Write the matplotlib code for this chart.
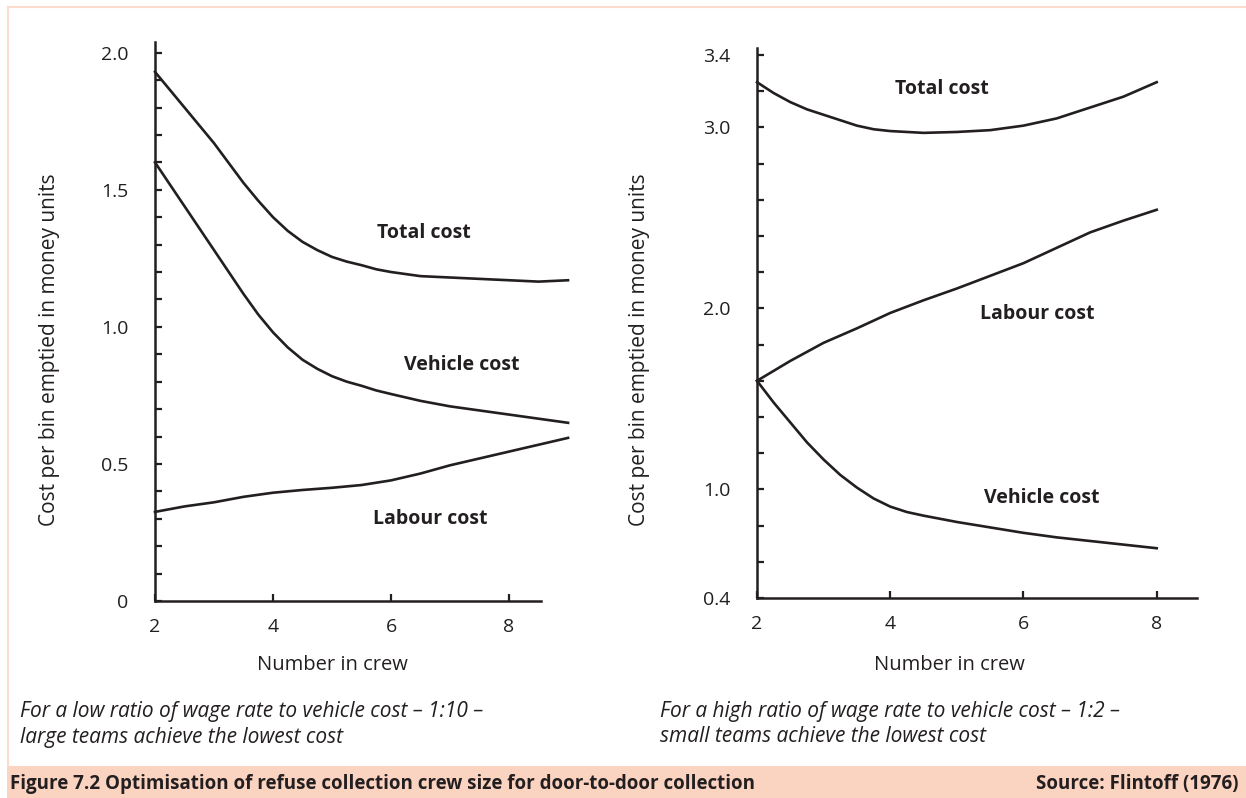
import matplotlib
matplotlib.use("Agg")
import matplotlib.pyplot as plt
from matplotlib.patches import Rectangle
from matplotlib.lines import Line2D

# donnees (gauche : ratio 1:10)
x_total_left = [2, 2.5, 3, 3.5, 3.75, 4, 4.25, 4.5, 4.75, 5, 5.25, 5.5, 5.75, 6, 6.5, 7, 7.5, 8, 8.5, 9]
total_left = [1.93, 1.80, 1.67, 1.525, 1.46, 1.40, 1.35, 1.31, 1.28, 1.255, 1.238, 1.225, 1.21, 1.20,
              1.185, 1.18, 1.175, 1.17, 1.165, 1.17]
x_vehicle_left = [2, 2.5, 3, 3.5, 3.75, 4, 4.25, 4.5, 4.75, 5, 5.25, 5.5, 5.75, 6, 6.5, 7, 7.5, 8, 8.5, 9]
vehicle_left = [1.60, 1.44, 1.28, 1.12, 1.045, 0.98, 0.925, 0.88, 0.847, 0.82, 0.80, 0.785, 0.768, 0.755,
                0.73, 0.71, 0.695, 0.68, 0.665, 0.65]
x_labour_left = [2, 2.5, 3, 3.5, 4, 4.5, 5, 5.5, 6, 6.5, 7, 7.5, 8, 8.5, 9]
labour_left = [0.325, 0.345, 0.36, 0.38, 0.395, 0.405, 0.413, 0.423, 0.44, 0.465, 0.495, 0.52, 0.545,
               0.57, 0.595]

# droite : ratio 1:2
x_total_right = [2, 2.25, 2.5, 2.75, 3, 3.25, 3.5, 3.75, 4, 4.5, 5, 5.5, 6, 6.5, 7, 7.5, 8]
total_right = [3.25, 3.19, 3.14, 3.10, 3.07, 3.04, 3.01, 2.99, 2.98, 2.97, 2.975, 2.985, 3.01, 3.05,
               3.11, 3.17, 3.25]
x_labour_right = [2, 2.5, 3, 3.5, 4, 4.5, 5, 5.5, 6, 6.5, 7, 7.5, 8]
labour_right = [1.60, 1.71, 1.81, 1.89, 1.975, 2.045, 2.11, 2.18, 2.25, 2.335, 2.42, 2.485, 2.545]
x_vehicle_right = [2, 2.25, 2.5, 2.75, 3, 3.25, 3.5, 3.75, 4, 4.25, 4.5, 5, 5.5, 6, 6.5, 7, 7.5, 8]
vehicle_right = [1.60, 1.48, 1.37, 1.26, 1.165, 1.08, 1.01, 0.95, 0.905, 0.875, 0.855, 0.82, 0.79, 0.76,
                 0.735, 0.715, 0.695, 0.675]

x_ticks = [2, 4, 6, 8]
y_left_major = [0, 0.5, 1.0, 1.5, 2.0]
y_left_labels = ["0", "0.5", "1.0", "1.5", "2.0"]
y_right_major = [0.4, 1.0, 2.0, 3.0, 3.4]
y_right_labels = ["0.4", "1.0", "2.0", "3.0", "3.4"]

ink = "#231f20"
salmon = "#fbd3c1"
border = "#fcdccd"

plt.rcParams["font.family"] = ["Open Sans", "DejaVu Sans"]

W, H = 1246, 798
fig = plt.figure(figsize=(W / 100, H / 100), dpi=100)


def style_axes(ax, xmax_spine, ytop_spine, ybottom):
    for s in ["top", "right"]:
        ax.spines[s].set_visible(False)
    for s in ["left", "bottom"]:
        ax.spines[s].set_linewidth(1.8)
        ax.spines[s].set_color(ink)
    ax.spines["bottom"].set_bounds(2, xmax_spine)
    ax.spines["left"].set_bounds(ybottom, ytop_spine)
    ax.set_xticks(x_ticks)
    ax.set_xticklabels([str(t) for t in x_ticks])
    ax.tick_params(axis="both", which="both", direction="in", length=5, width=1.6,
                   color=ink, labelcolor=ink, labelsize=14)
    ax.tick_params(axis="y", pad=19)
    ax.tick_params(axis="x", pad=12)
    ax.patch.set_visible(False)


# graphique de gauche
ax1 = fig.add_axes([155 / W, 1 - 601 / H, (571 - 155) / W, (601 - 39) / H])
ax1.set_xlim(2, 9.05)
ax1.set_ylim(0, 2.05)
ax1.plot(x_total_left, total_left, color=ink, lw=1.9, solid_joinstyle="round", clip_on=False)
ax1.plot(x_vehicle_left, vehicle_left, color=ink, lw=1.9, solid_joinstyle="round", clip_on=False)
ax1.plot(x_labour_left, labour_left, color=ink, lw=1.9, solid_joinstyle="round", clip_on=False)
style_axes(ax1, 8.55, 2.04, 0)
ax1.set_yticks(y_left_major)
ax1.set_yticklabels(y_left_labels)
ax1.set_yticks([v / 10 for v in range(1, 21) if v % 5 != 0], minor=True)
ax1.text(6.56, 1.343, "Total cost", ha="center", va="center", fontsize=14, fontweight="bold", color=ink)
ax1.text(7.2, 0.86, "Vehicle cost", ha="center", va="center", fontsize=14, fontweight="bold", color=ink)
ax1.text(6.66, 0.30, "Labour cost", ha="center", va="center", fontsize=14, fontweight="bold", color=ink)

# graphique de droite
ax2 = fig.add_axes([757 / W, 1 - 598 / H, (1200 - 757) / W, (598 - 46) / H])
ax2.set_xlim(2, 8.65)
ax2.set_ylim(0.4, 3.45)
ax2.plot(x_total_right, total_right, color=ink, lw=1.9, solid_joinstyle="round", clip_on=False)
ax2.plot(x_labour_right, labour_right, color=ink, lw=1.9, solid_joinstyle="round", clip_on=False)
ax2.plot(x_vehicle_right, vehicle_right, color=ink, lw=1.9, solid_joinstyle="round", clip_on=False)
style_axes(ax2, 8.6, 3.44, 0.4)
ax2.set_yticks(y_right_major)
ax2.set_yticklabels(y_right_labels)
ax2.set_yticks([0.6, 0.8, 1.2, 1.4, 1.6, 1.8, 2.2, 2.4, 2.6, 2.8, 3.2], minor=True)
ax2.text(4.77, 3.21, "Total cost", ha="center", va="center", fontsize=14, fontweight="bold", color=ink)
ax2.text(6.21, 1.97, "Labour cost", ha="center", va="center", fontsize=14, fontweight="bold", color=ink)
ax2.text(6.27, 0.95, "Vehicle cost", ha="center", va="center", fontsize=14, fontweight="bold", color=ink)

# titres des axes
ylab = "Cost per bin emptied in money units"
fig.text(50 / W, 1 - 350 / H, ylab, rotation=90, ha="center", va="center", fontsize=15, color=ink)
fig.text(640 / W, 1 - 350 / H, ylab, rotation=90, ha="center", va="center", fontsize=15, color=ink)
fig.text(332 / W, 1 - 665 / H, "Number in crew", ha="center", va="center", fontsize=14.5, color=ink)
fig.text(949 / W, 1 - 665 / H, "Number in crew", ha="center", va="center", fontsize=14.5, color=ink)

# legendes en italique
fig.text(20 / W, 1 - 712 / H, "For a low ratio of wage rate to vehicle cost \u2013 1:10 \u2013",
         ha="left", va="center", fontsize=15, style="italic", color=ink)
fig.text(20 / W, 1 - 737 / H, "large teams achieve the lowest cost",
         ha="left", va="center", fontsize=15, style="italic", color=ink)
fig.text(660 / W, 1 - 712 / H, "For a high ratio of wage rate to vehicle cost \u2013 1:2 \u2013",
         ha="left", va="center", fontsize=15, style="italic", color=ink)
fig.text(660 / W, 1 - 737 / H, "small teams achieve the lowest cost",
         ha="left", va="center", fontsize=15, style="italic", color=ink)

# cadre et bandeau
fig.add_artist(Line2D([8 / W, 1], [1 - 7 / H, 1 - 7 / H], color=border, lw=1.5, transform=fig.transFigure))
fig.add_artist(Line2D([8 / W, 8 / W], [1 - 7 / H, 1 - 766 / H], color=border, lw=1.5, transform=fig.transFigure))
fig.add_artist(Rectangle((7 / W, 0), 1 - 7 / W, 32 / H, facecolor=salmon, edgecolor="none",
                         transform=fig.transFigure))
fig.text(10 / W, 1 - 784 / H, "Figure 7.2 Optimisation of refuse collection crew size for door-to-door collection",
         ha="left", va="center", fontsize=13.5, fontweight="bold", color=ink)
fig.text(1238 / W, 1 - 784 / H, "Source: Flintoff (1976)",
         ha="right", va="center", fontsize=13.5, fontweight="bold", color=ink)

fig.savefig("out.png", dpi=100)
